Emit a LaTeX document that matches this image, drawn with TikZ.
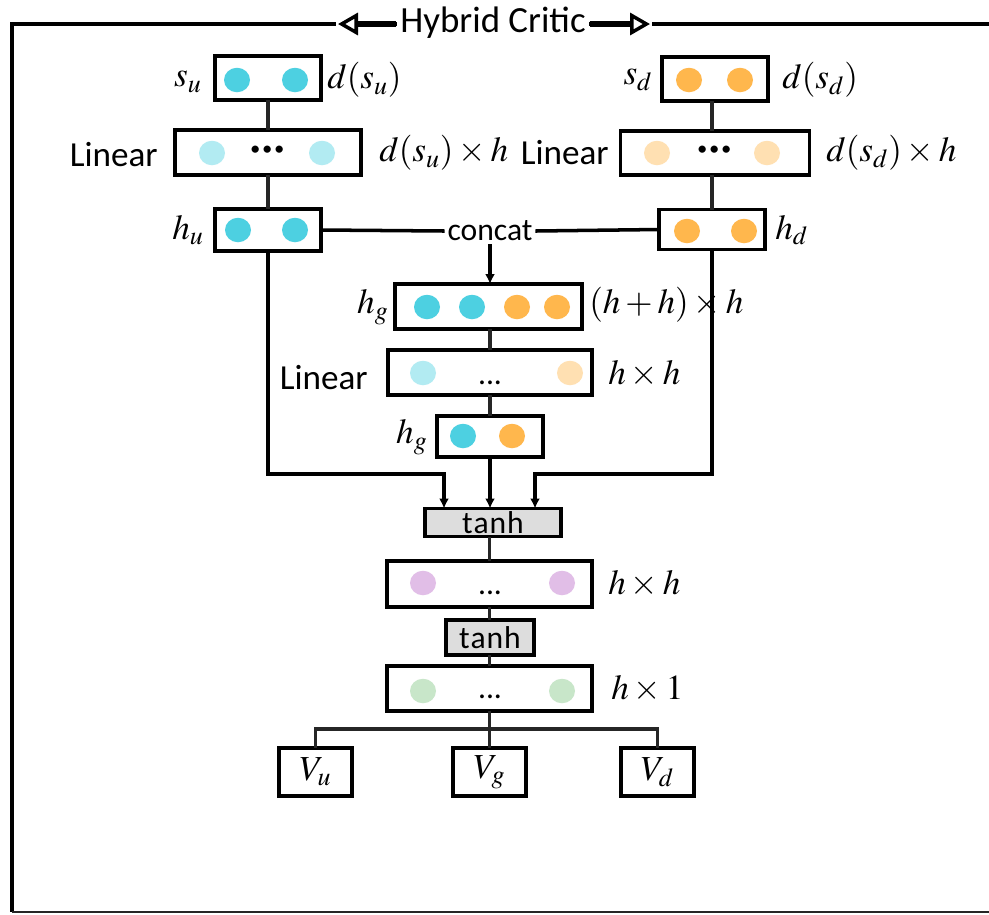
\documentclass[tikz,border=0pt]{standalone}
\usepackage{mathptmx}
\usepackage[no-math]{fontspec}
\setsansfont{Carlito}
\usetikzlibrary{arrows.meta}
\definecolor{cyanA}{HTML}{4DD0E1}
\definecolor{orangeA}{HTML}{FFB74D}
\definecolor{cyanL}{HTML}{B2EBF2}
\definecolor{orangeL}{HTML}{FFE0B2}
\definecolor{purpleL}{HTML}{E1BEE7}
\definecolor{greenL}{HTML}{C8E6C9}
\definecolor{tanhgray}{HTML}{DDDDDD}
\definecolor{linkgray}{HTML}{262626}
\newcommand\mkblob[3]{\fill[#1] (#2,#3) ellipse [x radius=0.26cm, y radius=0.245cm];}
\begin{document}
\begin{tikzpicture}[x=0.02cm,y=-0.02cm,
  box/.style={draw=black, line width=2.2pt, inner sep=0pt, outer sep=0pt, fill=white},
  actbox/.style={box, fill=tanhgray, font=\sffamily\fontsize{18pt}{20pt}\selectfont},
  vbox/.style={box, minimum width=1.46cm, minimum height=0.96cm, font=\fontsize{20pt}{24pt}\selectfont},
  lbl/.style={inner sep=0pt, font=\fontsize{20pt}{24pt}\selectfont},
  slbl/.style={inner sep=0pt, font=\sffamily\fontsize{20pt}{24pt}\selectfont},
  dotlbl/.style={inner sep=0pt, anchor=base, font=\sffamily\fontsize{18pt}{20pt}\selectfont},
  link/.style={draw=linkgray, line width=2pt},
  arr/.style={draw=black, line width=2pt, -{Latex[length=0.2cm,width=0.2cm]}},
  framel/.style={draw=black, line width=2.4pt},
  titlearrow/.style={draw=black, line width=3pt, -{Triangle[length=0.4cm,width=0.44cm,fill=white,line width=2pt]}}
]
\useasboundingbox (0,0) rectangle (989,914);
% frame
\draw[framel] (989,24) -- (12,24) -- (12,912);
\draw[draw=black!85, line width=1.4pt] (12,912) -- (989,912);
\node[fill=white, inner sep=2pt, font=\sffamily\fontsize{21pt}{24pt}\selectfont] (title) at (493,23) {Hybrid Critic};
\coordinate (tl) at (338,24);
\coordinate (tr) at (650,24);
\fill[white] (336,12) rectangle (360,36);
\fill[white] (628,12) rectangle (652,36);
\draw[titlearrow] (title.west |- tl) -- (tl);
\draw[titlearrow] (title.east |- tr) -- (tr);

% boxes
\node[box, minimum width=2.12cm, minimum height=0.88cm] (su) at (268,78) {};
\node[box, minimum width=3.72cm, minimum height=0.90cm] (linU) at (268,152.5) {};
\node[box, minimum width=2.12cm, minimum height=0.84cm] (hu) at (268,230) {};
\node[box, minimum width=2.12cm, minimum height=0.88cm] (sd) at (715,79) {};
\node[box, minimum width=3.78cm, minimum height=0.88cm] (linD) at (715,153) {};
\node[box, minimum width=2.12cm, minimum height=0.80cm] (hd) at (712,229.5) {};
\node[box, minimum width=3.74cm, minimum height=0.90cm] (hg1) at (488.5,306.5) {};
\node[box, minimum width=4.08cm, minimum height=0.90cm] (linG) at (490,372.5) {};
\node[box, minimum width=2.12cm, minimum height=0.82cm] (hg2) at (490,436.5) {};
\node[actbox, minimum width=2.72cm, minimum height=0.56cm] (tanhA) at (493,522.5) {t\kern0.5pt a\kern0.5pt n\kern0.5pt h};
\node[box, minimum width=4.10cm, minimum height=0.92cm] (fc) at (489.5,584) {};
\node[actbox, minimum width=1.76cm, minimum height=0.70cm] (tanhB) at (490,637.5) {t\kern0.5pt a\kern0.5pt n\kern0.5pt h};
\node[box, minimum width=4.10cm, minimum height=0.90cm] (out) at (489.5,688.5) {};
\node[vbox] (Vu) at (315.5,772) {$V_u$};
\node[vbox] (Vg) at (489.5,772) {$V_g$};
\node[vbox] (Vd) at (657.5,772) {$V_d$};

% blobs
\mkblob{cyanA}{237}{80}\mkblob{cyanA}{295}{80}
\mkblob{cyanL}{212}{153}\mkblob{cyanL}{322}{153}
\mkblob{cyanA}{238}{230}\mkblob{cyanA}{295}{230}
\mkblob{orangeA}{689}{80}\mkblob{orangeA}{740}{80}
\mkblob{orangeL}{657}{153}\mkblob{orangeL}{767}{153}
\mkblob{orangeA}{687}{231}\mkblob{orangeA}{744}{231}
\mkblob{cyanA}{427}{307}\mkblob{cyanA}{472}{307}\mkblob{orangeA}{517}{307}\mkblob{orangeA}{557}{307}
\mkblob{cyanL}{423}{373}\mkblob{orangeL}{570}{373}
\mkblob{cyanA}{463}{436}\mkblob{orangeA}{512}{436}
\mkblob{purpleL}{423}{583}\mkblob{purpleL}{562}{583}
\mkblob{greenL}{423}{691}\mkblob{greenL}{562}{691}

% dots
\node[inner sep=0pt, font=\sffamily\bfseries\fontsize{22pt}{24pt}\selectfont] (dotsU) at (268,153) {·\kern1pt·\kern1pt·};
\node[inner sep=0pt, font=\sffamily\bfseries\fontsize{22pt}{24pt}\selectfont] (dotsD) at (715,153) {·\kern1pt·\kern1pt·};
\node[dotlbl] (dotsG) at (490,384) {...};
\node[dotlbl] (dotsF) at (490,594) {...};
\node[dotlbl] (dotsO) at (490,698) {...};

% labels
\node[lbl] (lsu) at (188,82) {$s_u$};
\node[lbl, anchor=west] (ldsu) at (327,80) {$d(s_u)$};
\node[slbl, anchor=east] (llinU) at (158,155) {Linear};
\node[lbl, anchor=west] (ldsuh) at (379,153) {$d(s_u)\times h$};
\node[lbl] (lhu) at (188,230) {$h_u$};
\node[lbl] (lsd) at (638,80) {$s_d$};
\node[lbl, anchor=west] (ldsd) at (782,80) {$d(s_d)$};
\node[slbl, anchor=east] (llinD) at (609,153) {Linear};
\node[lbl, anchor=west] (ldsdh) at (826,153) {$d(s_d)\times h$};
\node[lbl, anchor=west] (lhd) at (775,230) {$h_d$};
\node[inner sep=1.5pt, font=\sffamily\fontsize{18pt}{20pt}\selectfont] (concat) at (490,231) {concat};
\node[lbl, anchor=east] (lhg1) at (389,307) {$h_g$};
\node[lbl, anchor=west] (lhh) at (589,305) {$(h+h)\times h$};
\node[slbl, anchor=east] (llinG) at (368,378) {Linear};
\node[lbl, anchor=west] (lhxhA) at (608,374) {$h\times h$};
\node[lbl, anchor=east] (lhg2) at (428,437) {$h_g$};
\node[lbl, anchor=west] (lhxhB) at (608,584) {$h\times h$};
\node[lbl, anchor=west] (lhx1) at (611,689) {$h\times 1$};

% connectors
\draw[link] (su.south) -- (linU.north);
\draw[link] (linU.south) -- (hu.north);
\draw[link] (sd.south -| 712,0) -- (linD.north -| 712,0);
\draw[link] (linD.south -| 712,0) -- (hd.north);
\draw[draw=black, line width=2pt] (hu.east) -- (concat.west);
\draw[draw=black, line width=2pt] (concat.east) -- (hd.west);
\draw[arr] (concat.south) -- (concat.south |- hg1.north);
\draw[link] (hg1.south -| linG.north) -- (linG.north);
\draw[link] (linG.south) -- (hg2.north);
\coordinate (jl) at (444,474);
\coordinate (jr) at (535,474);
\draw[arr] (hu.south) |- (jl) -- (jl |- tanhA.north);
\draw[arr] (hd.south) |- (jr) -- (jr |- tanhA.north);
\draw[arr] (hg2.south) -- (hg2.south |- tanhA.north);
\draw[link] (tanhA.south -| fc.north) -- (fc.north);
\draw[link] (fc.south) -- (tanhB.north -| fc.south);
\draw[link] (tanhB.south -| out.north) -- (out.north);
\coordinate (tj) at (489.5,729);
\draw[link] (out.south) -- (tj) -- (Vg.north);
\draw[link] (Vu.north) |- (tj) -| (Vd.north);
\end{tikzpicture}
\end{document}
